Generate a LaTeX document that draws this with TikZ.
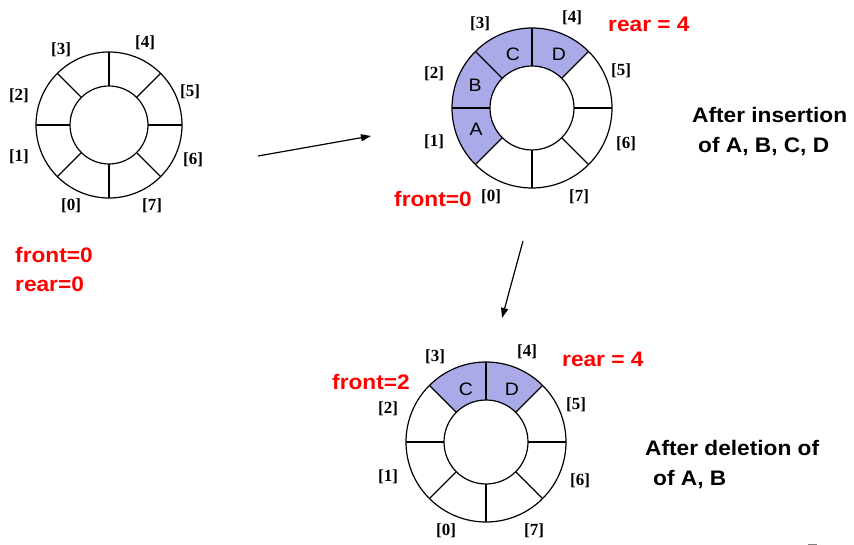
\documentclass[tikz,border=0pt]{standalone}
\usepackage{fontspec}
\setmainfont{Liberation Serif}
\newfontfamily\arialf{Liberation Sans}[FakeStretch=1.08]
\usetikzlibrary{arrows.meta}
\definecolor{lav}{RGB}{170,170,232}
\definecolor{redtxt}{RGB}{255,0,0}
\newcommand\myring[4]{% cx cy R r
  \begin{scope}[shift={(#1,#2)},yscale=-1]
    \draw[ringline] (0,0) circle[radius=#3];
    \draw[ringline] (0,0) circle[radius=#4];
    \foreach \a in {0,45,...,315} \draw[ringline] (\a:#4) -- (\a:#3);
  \end{scope}}
\newcommand\mysegfill[5]{% cx cy R r k
  \begin{scope}[shift={(#1,#2)},yscale=-1]
    \fill[lav] ({225-45*#5}:#3) arc[start angle={225-45*#5}, end angle={270-45*#5}, radius=#3]
      -- ({270-45*#5}:#4) arc[start angle={270-45*#5}, end angle={225-45*#5}, radius=#4] -- cycle;
  \end{scope}}
\begin{document}
\begin{tikzpicture}[x=1pt,y=-1pt,
  ringline/.style={line width=1.2pt,black},
  idx/.style={font=\fontsize{17}{19}\selectfont\bfseries, inner sep=0pt},
  redlab/.style={font=\arialf\fontsize{21}{24}\selectfont\bfseries, text=redtxt, anchor=base west, inner sep=0pt},
  blklab/.style={font=\arialf\fontsize{21}{24}\selectfont\bfseries, text=black, anchor=base west, inner sep=0pt},
  letter/.style={font=\arialf\fontsize{18}{20}\selectfont, inner sep=0pt},
  arr/.style={line width=1.2pt, -{Triangle[length=10pt,width=7pt]}}]
\useasboundingbox (0,0) rectangle (854,545);
% ring 1
\myring{109}{125}{73}{39}
% ring 2
\mysegfill{532}{108}{80}{42}{1}
\mysegfill{532}{108}{80}{42}{2}
\mysegfill{532}{108}{80}{42}{3}
\mysegfill{532}{108}{80}{42}{4}
\myring{532}{108}{80}{42}
% ring 3
\mysegfill{486}{442}{80}{42}{3}
\mysegfill{486}{442}{80}{42}{4}
\myring{486}{442}{80}{42}
% ring 1 labels
\node[idx] (a3) at (61,50) {[3]};
\node[idx] (a4) at (145,43) {[4]};
\node[idx] (a5) at (190,92) {[5]};
\node[idx] (a2) at (19,96) {[2]};
\node[idx] (a1) at (19,157) {[1]};
\node[idx] (a6) at (193,160) {[6]};
\node[idx] (a0) at (71,206) {[0]};
\node[idx] (a7) at (152,206) {[7]};
% ring 2 labels
\node[idx] (b3) at (480,24) {[3]};
\node[idx] (b4) at (572,18) {[4]};
\node[idx] (b5) at (621,71) {[5]};
\node[idx] (b2) at (434,74) {[2]};
\node[idx] (b1) at (434,142) {[1]};
\node[idx] (b6) at (626,144) {[6]};
\node[idx] (b0) at (491,197) {[0]};
\node[idx] (b7) at (579,197) {[7]};
% ring 3 labels
\node[idx] (c3) at (435,357) {[3]};
\node[idx] (c4) at (527,352) {[4]};
\node[idx] (c5) at (576,405) {[5]};
\node[idx] (c2) at (388,409) {[2]};
\node[idx] (c1) at (388,477) {[1]};
\node[idx] (c6) at (580,481) {[6]};
\node[idx] (c0) at (446,531) {[0]};
\node[idx] (c7) at (534,531) {[7]};
% letters
\node[letter] (lA) at (476,129) {A};
\node[letter] (lB) at (475,85) {B};
\node[letter] (lC) at (513,54) {C};
\node[letter] (lD) at (559,54) {D};
\node[letter] (mC) at (466,389) {C};
\node[letter] (mD) at (512,389) {D};
% red labels
\node[redlab] (f1) at (15,263) {front=0};
\node[redlab] (r1) at (15,292) {rear=0};
\node[redlab] (r2) at (608,32) {rear = 4};
\node[redlab] (f2) at (394,207) {front=0};
\node[redlab] (f3) at (332,389) {front=2};
\node[redlab] (r3) at (562,366) {rear = 4};
% black labels
\node[blklab] (t1) at (692,123) {After insertion};
\node[blklab] (t2) at (698,153) {of A, B, C, D};
\node[blklab] (t3) at (645,455) {After deletion of};
\node[blklab] (t4) at (653,485) {of A, B};
% arrows
\coordinate (p1) at (258,156);
\coordinate (q1) at (371,136);
\coordinate (p2) at (523,241);
\coordinate (q2) at (502,318);
\draw[arr] (p1) -- (q1);
\draw[arr] (p2) -- (q2);
% small mark bottom right
\draw[gray, line width=1.2pt] (808,544.4) -- (817,544.4);
\end{tikzpicture}
\end{document}
